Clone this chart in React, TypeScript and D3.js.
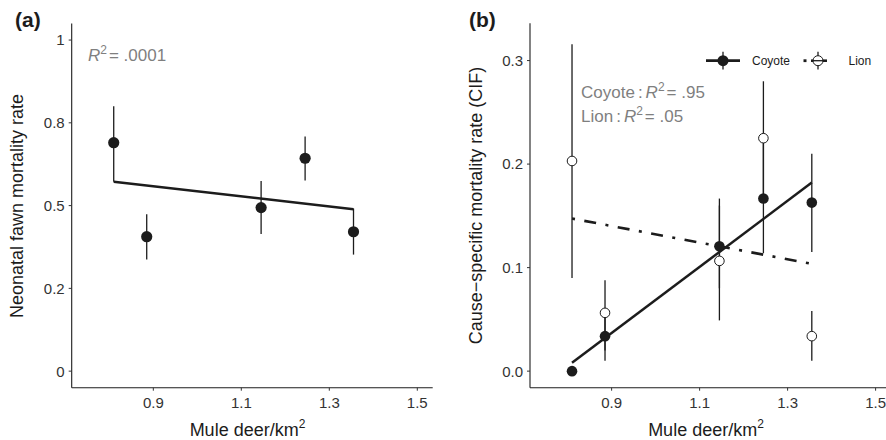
import React from "react";
import * as d3 from "d3";

// ---------- data ----------
const density = [0.81, 0.885, 1.145, 1.245, 1.355];
// panel (a)
const fawnMort = [0.69, 0.406, 0.494, 0.643, 0.421];
const fawnLo = [0.572, 0.337, 0.414, 0.576, 0.352];
const fawnHi = [0.8, 0.474, 0.574, 0.709, 0.491];
const fawnFitX = [0.81, 1.355];
const fawnFitY = [0.572, 0.489];
// panel (b)
const coyote = [0.0, 0.0338, 0.1207, 0.1667, 0.1628];
const coyoteLo = [0.0, 0.01, 0.08, 0.114, 0.1152];
const coyoteHi = [0.0, 0.06, 0.1667, 0.22, 0.21];
const lion = [0.203, 0.0563, 0.1065, 0.225, 0.0338];
const lionLo = [0.09, 0.02, 0.049, 0.17, 0.01];
const lionHi = [0.3157, 0.0878, 0.16, 0.28, 0.058];
const coyFitY = [0.008, 0.1822];
const lionFitY = [0.1474, 0.1037];

const xTicks = [0.9, 1.1, 1.3, 1.5];
const yTicksA = [0, 0.25, 0.5, 0.75, 1];
const yTickLabelsA = ["0", "0.2", "0.5", "0.8", "1"];
const yTicksB = [0, 0.1, 0.2, 0.3];
const yTickLabelsB = ["0.0", "0.1", "0.2", "0.3"];

const FONT = "'Liberation Sans', Arial, Helvetica, sans-serif";
const INK = "#1c1c1c";
const TICK = "#333333";
const GRAY = "#7f7f7f";
const DOTDASH = "3 9.5 12 9.5";

const W = 886;
const H = 440;

function Axes({ x, y, yTicks, yLabels }: any) {
  const [x0, x1] = x.range();
  const [yb, yt] = y.range();
  return (
    <g>
      <line x1={x0} x2={x0} y1={yt} y2={yb} stroke={INK} strokeWidth={1.1} />
      <line x1={x0} x2={x1} y1={yb} y2={yb} stroke={INK} strokeWidth={1.1} />
      {yTicks.map((t: number, i: number) => (
        <g key={"y" + i}>
          <line x1={x0 - 3} x2={x0} y1={y(t)} y2={y(t)} stroke={TICK} strokeWidth={1} />
          <text x={x0 - 7} y={y(t)} dy="0.36em" textAnchor="end" fontSize={15} fill={TICK} fontFamily={FONT}>
            {yLabels[i]}
          </text>
        </g>
      ))}
      {xTicks.map((t, i) => (
        <g key={"x" + i}>
          <line x1={x(t)} x2={x(t)} y1={yb} y2={yb + 3} stroke={TICK} strokeWidth={1} />
          <text x={x(t)} y={407.5} textAnchor="middle" fontSize={15} fill={TICK} fontFamily={FONT}>
            {t.toFixed(1)}
          </text>
        </g>
      ))}
    </g>
  );
}

function XTitle({ cx }: { cx: number }) {
  return (
    <text x={cx} y={436} textAnchor="middle" fontSize={18} fill={INK} fontFamily={FONT}>
      Mule deer/km
      <tspan dy={-8} fontSize={12}>2</tspan>
    </text>
  );
}

export default function App() {
  const xA = d3.scaleLinear().domain([0.7145, 1.535]).range([71.7, 432.7]);
  const yA = d3.scaleLinear().domain([-0.05, 1.05]).range([387.7, 23.5]);
  const xB = d3.scaleLinear().domain([0.7145, 1.535]).range([530, 891]);
  const yB = d3.scaleLinear().domain([-0.016, 0.336]).range([387.7, 23.3]);

  const line = (xs: any, ys: any, xv: number[], yv: number[]) =>
    d3
      .line<number>()
      .x((_, i) => xs(xv[i]))
      .y((v) => ys(v))(yv) as string;

  return (
    <svg width={W} height={H} style={{ position: "absolute", left: 0, top: 0, background: "#fff" }}>
      <rect width={W} height={H} fill="#fff" />
      {/* ---------- panel (a) ---------- */}
      <text x={15} y={27} fontSize={21} fontWeight="bold" fill={INK} fontFamily={FONT}>
        (a)
      </text>
      <Axes x={xA} y={yA} yTicks={yTicksA} yLabels={yTickLabelsA} />
      <text
        transform={`translate(23,206) rotate(-90)`}
        textAnchor="middle"
        fontSize={18}
        fill={INK}
        fontFamily={FONT}
      >
        Neonatal fawn mortality rate
      </text>
      <XTitle cx={247.5} />
      <text x={88} y={61} fontSize={17} fill={GRAY} fontFamily={FONT}>
        <tspan fontStyle="italic">R</tspan>
        <tspan dy={-7} fontSize={12}>2</tspan>
        <tspan dy={7} dx={2}>= .0001</tspan>
      </text>
      {density.map((d, i) => (
        <line key={"ea" + i} x1={xA(d)} x2={xA(d)} y1={yA(fawnLo[i])} y2={yA(fawnHi[i])} stroke={INK} strokeWidth={1.3} />
      ))}
      <path d={line(xA, yA, fawnFitX, fawnFitY)} fill="none" stroke={INK} strokeWidth={2.5} />
      {density.map((d, i) => (
        <circle key={"pa" + i} cx={xA(d)} cy={yA(fawnMort[i])} r={5.6} fill={INK} />
      ))}

      {/* ---------- panel (b) ---------- */}
      <text x={469} y={27} fontSize={21} fontWeight="bold" fill={INK} fontFamily={FONT}>
        (b)
      </text>
      <Axes x={xB} y={yB} yTicks={yTicksB} yLabels={yTickLabelsB} />
      <text
        transform={`translate(482,205.5) rotate(-90)`}
        textAnchor="middle"
        fontSize={18}
        fill={INK}
        fontFamily={FONT}
      >
        Cause−specific mortality rate (CIF)
      </text>
      <XTitle cx={706} />
      <text x={581} y={98.3} fontSize={17} fill={GRAY} fontFamily={FONT}>
        Coyote<tspan dx={3}>:</tspan>
        <tspan dx={3} fontStyle="italic">R</tspan>
        <tspan dy={-7} fontSize={12}>2</tspan>
        <tspan dy={7} dx={2}>= .95</tspan>
      </text>
      <text x={581} y={121.7} fontSize={17} fill={GRAY} fontFamily={FONT}>
        Lion<tspan dx={3}>:</tspan>
        <tspan dx={3} fontStyle="italic">R</tspan>
        <tspan dy={-7} fontSize={12}>2</tspan>
        <tspan dy={7} dx={2}>= .05</tspan>
      </text>

      {density.map((d, i) => (
        <line key={"el" + i} x1={xB(d)} x2={xB(d)} y1={yB(lionLo[i])} y2={yB(lionHi[i])} stroke={INK} strokeWidth={1.3} />
      ))}
      {density.map((d, i) => (
        <line key={"ec" + i} x1={xB(d)} x2={xB(d)} y1={yB(coyoteLo[i])} y2={yB(coyoteHi[i])} stroke={INK} strokeWidth={1.3} />
      ))}
      <path d={line(xB, yB, fawnFitX, coyFitY)} fill="none" stroke={INK} strokeWidth={2.5} />
      <path d={line(xB, yB, fawnFitX, lionFitY)} fill="none" stroke={INK} strokeWidth={2.6} strokeDasharray={DOTDASH} />
      {density.map((d, i) => (
        <circle key={"pl" + i} cx={xB(d)} cy={yB(lion[i])} r={4.8} fill="#fff" stroke={INK} strokeWidth={1} />
      ))}
      {density.map((d, i) => (
        <circle key={"pc" + i} cx={xB(d)} cy={yB(coyote[i])} r={5.3} fill={INK} />
      ))}

      {/* legend */}
      <g fontFamily={FONT} fontSize={12} fill={INK}>
        <line x1={706} x2={740} y1={60.7} y2={60.7} stroke={INK} strokeWidth={2.8} />
        <line x1={723} x2={723} y1={51.7} y2={69.5} stroke={INK} strokeWidth={1.3} />
        <circle cx={723} cy={60.7} r={5.5} fill={INK} />
        <text x={752} y={60.7} dy="0.36em">Coyote</text>
        <line x1={803.5} x2={806.5} y1={60.7} y2={60.7} stroke={INK} strokeWidth={2.8} />
        <line x1={811} x2={827} y1={60.7} y2={60.7} stroke={INK} strokeWidth={2.6} />
        <line x1={818} x2={818} y1={51.7} y2={69.5} stroke={INK} strokeWidth={1.3} />
        <circle cx={818} cy={60.7} r={5} fill="#fff" stroke={INK} strokeWidth={1} />
        <line x1={813} x2={823} y1={60.7} y2={60.7} stroke={INK} strokeWidth={1.3} />
        <text x={848.5} y={60.7} dy="0.36em">Lion</text>
      </g>
    </svg>
  );
}
